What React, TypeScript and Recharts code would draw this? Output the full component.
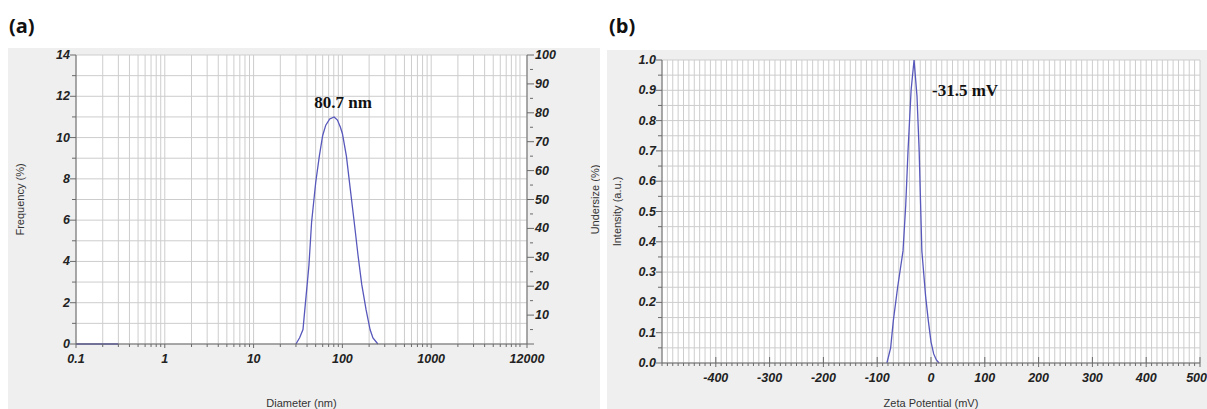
import React from "react";
import {
  LineChart,
  Line,
  XAxis,
  YAxis,
  CartesianGrid,
  ReferenceDot,
} from "recharts";

// (a) particle size distribution
const sizeNm = [0.1, 0.3, 1, 30, 33, 36, 38, 42, 45, 50, 55, 60, 65, 72, 80.7, 88, 95, 100, 111, 122, 136, 150, 165, 185, 205, 221, 251];
const frequency = [0, 0, null, 0, 0.3, 0.7, 1.8, 3.8, 5.9, 7.8, 9.1, 10.1, 10.6, 10.9, 11.0, 10.85, 10.5, 10.2, 9.1, 7.6, 5.9, 4.3, 2.9, 1.65, 0.7, 0.29, 0];
const sizeMajorTicks = [0.1, 1, 10, 100, 1000, 12000];
const sizeLabels = ["0.1", "1", "10", "100", "1000", "12000"];
const sizePeakLabel = "80.7 nm";

// (b) zeta potential
const zetaMv = [-82, -75, -70, -62, -52, -47, -42.7, -37, -31.5, -26, -22, -17, -10, -5, 0, 5, 10, 15];
const intensity = [0, 0.05, 0.14, 0.25, 0.37, 0.52, 0.7, 0.9, 1.0, 0.88, 0.7, 0.37, 0.22, 0.14, 0.07, 0.03, 0.01, 0];
const zetaLabels = [-400, -300, -200, -100, 0, 100, 200, 300, 400, 500];
const zetaPeakLabel = "-31.5 mV";

const sizeData = sizeNm.map((x, i) => ({ x, y: frequency[i] }));
const zetaData = zetaMv.map((x, i) => ({ x, y: intensity[i] }));

// grid / tick positions
const sizeTicks: number[] = [];
[0.1, 1, 10, 100, 1000].forEach((d) => {
  for (let k = 1; k <= 9; k++) sizeTicks.push(+(d * k).toPrecision(3));
});
sizeTicks.push(10000, 12000);
const freqTicks = Array.from({ length: 15 }, (_, i) => i);
const underTicks = Array.from({ length: 21 }, (_, i) => i * 5);
const zetaTicks = Array.from({ length: 101 }, (_, i) => -500 + i * 10);
const intTicks = Array.from({ length: 21 }, (_, i) => i * 5 / 100);

const LINE = "#5858bc";
const GRID = "#cdcdcd";
const AXIS = "#6a6a6a";
const tickFont = {
  fontFamily: "'Liberation Sans', Arial, sans-serif",
  fontSize: 12.5,
  fontWeight: 700,
  fontStyle: "italic" as const,
  fill: "#222",
};
const titleFont = {
  fontFamily: "'Liberation Sans', Arial, sans-serif",
  fontSize: 11,
  fill: "#333",
};

const SizeXTick = (p: any) => {
  const v = p.payload.value;
  const i = sizeMajorTicks.indexOf(v);
  return (
    <g>
      <line x1={p.x} x2={p.x} y1={p.y} y2={p.y + (i >= 0 ? 4 : 3)} stroke={AXIS} />
      {i >= 0 && (
        <text x={p.x} y={p.y + 19} textAnchor="middle" {...tickFont}>
          {sizeLabels[i]}
        </text>
      )}
    </g>
  );
};

const FreqTick = (p: any) => {
  const v = p.payload.value;
  const major = v % 2 === 0;
  return (
    <g>
      <line x1={p.x - (major ? 6 : 4)} x2={p.x} y1={p.y} y2={p.y} stroke={AXIS} />
      {major && (
        <text x={p.x - 6} y={p.y + 4} textAnchor="end" {...tickFont}>
          {v}
        </text>
      )}
    </g>
  );
};

const UnderTick = (p: any) => {
  const v = p.payload.value;
  const major = v % 10 === 0;
  return (
    <g>
      {major ? (
        <line x1={p.x} x2={p.x + 7} y1={p.y} y2={p.y} stroke={AXIS} />
      ) : (
        <line x1={p.x + 3} x2={p.x + 6} y1={p.y} y2={p.y} stroke={AXIS} />
      )}
      {major && v > 0 && (
        <text x={p.x + 8} y={p.y + 4} textAnchor="start" {...tickFont}>
          {v}
        </text>
      )}
    </g>
  );
};

const ZetaXTick = (p: any) => {
  const v = p.payload.value;
  const major = zetaLabels.includes(v);
  const last = v === zetaLabels[zetaLabels.length - 1];
  return (
    <g>
      <line x1={p.x} x2={p.x} y1={p.y - (major ? 6 : 0)} y2={p.y + (major ? 4 : 3)} stroke={AXIS} />
      {major && (
        <text x={last ? p.x + 7 : p.x} y={p.y + 19} textAnchor={last ? "end" : "middle"} {...tickFont}>
          {v}
        </text>
      )}
    </g>
  );
};

const IntTick = (p: any) => {
  const v = p.payload.value;
  const major = Math.round(v * 100) % 10 === 0;
  return (
    <g>
      <line x1={p.x - (major ? 6 : 4)} x2={p.x} y1={p.y} y2={p.y} stroke={AXIS} />
      {major && (
        <text x={p.x - 6} y={p.y + 4} textAnchor="end" {...tickFont}>
          {v.toFixed(1)}
        </text>
      )}
    </g>
  );
};

const axisTitle = (text: string, d: number, vertical: boolean) => (props: any) => {
  const vb = props.viewBox;
  const cx = vertical ? vb.x + d : vb.x + vb.width / 2;
  const cy = vertical ? vb.y + vb.height / 2 : vb.y + d;
  return (
    <text
      x={cx}
      y={cy}
      textAnchor="middle"
      dominantBaseline="central"
      transform={vertical ? `rotate(-90 ${cx} ${cy})` : undefined}
      {...titleFont}
    >
      {text}
    </text>
  );
};

const peakFont = {
  fontFamily: "'Liberation Serif', 'Times New Roman', serif",
  fontSize: 17,
  fontWeight: 700,
  fill: "#111",
};

const panelTitle: React.CSSProperties = {
  position: "absolute",
  fontFamily: "'Open Sans', 'Liberation Sans', sans-serif",
  fontWeight: 700,
  fontSize: 20,
  color: "#111",
  lineHeight: "22px",
};

export default function App() {
  return (
    <div style={{ position: "absolute", left: 0, top: 0, width: 1207, height: 409, background: "#fff", overflow: "hidden" }}>
      <div style={{ ...panelTitle, left: 9, top: 15 }}>(a)</div>
      <div style={{ ...panelTitle, left: 609, top: 15 }}>(b)</div>

      <div style={{ position: "absolute", left: 8, top: 48, width: 592, height: 361, background: "#efefef" }}>
        <LineChart width={592} height={361} data={sizeData} margin={{ top: 7, right: 3, bottom: 5, left: 8 }}>
          <CartesianGrid yAxisId="left" stroke={GRID} fill="#fff" strokeWidth={1} />
          <XAxis
            dataKey="x"
            type="number"
            scale="log"
            domain={[0.1, 12000]}
            allowDataOverflow
            ticks={sizeTicks}
            interval={0}
            tick={SizeXTick}
            tickLine={false}
            tickSize={0}
            tickMargin={0}
            height={60}
            stroke={AXIS}
            label={{ content: axisTitle("Diameter (nm)", 59, false) }}
          />
          <YAxis
            yAxisId="left"
            type="number"
            domain={[0, 14]}
            ticks={freqTicks}
            interval={0}
            tick={FreqTick}
            tickLine={false}
            tickSize={0}
            tickMargin={0}
            width={60}
            stroke={AXIS}
            label={{ content: axisTitle("Frequency (%)", 4, true) }}
          />
          <YAxis
            yAxisId="right"
            orientation="right"
            type="number"
            domain={[0, 100]}
            allowDataOverflow
            ticks={underTicks}
            interval={0}
            tick={UnderTick}
            tickLine={false}
            tickSize={0}
            tickMargin={0}
            width={70}
            stroke={AXIS}
            label={{ content: axisTitle("Undersize (%)", 68, true) }}
          />
          <Line
            yAxisId="left"
            dataKey="y"
            type="linear"
            stroke={LINE}
            strokeWidth={1.3}
            dot={false}
            connectNulls={false}
            isAnimationActive={false}
          />
          <ReferenceDot
            yAxisId="left"
            x={80.7}
            y={11}
            r={0}
            stroke="none"
            fill="none"
            label={{ value: sizePeakLabel, position: "top", offset: 9, dx: 9, ...peakFont }}
          />
        </LineChart>
      </div>

      <div style={{ position: "absolute", left: 607, top: 50, width: 600, height: 359, background: "#efefef" }}>
        <LineChart width={600} height={359} data={zetaData} margin={{ top: 10, right: 7, bottom: 2, left: 5 }}>
          <CartesianGrid stroke={GRID} fill="#fff" strokeWidth={1} />
          <XAxis
            dataKey="x"
            type="number"
            domain={[-500, 500]}
            ticks={zetaTicks}
            interval={0}
            tick={ZetaXTick}
            tickLine={false}
            tickSize={0}
            tickMargin={0}
            height={44}
            stroke={AXIS}
            label={{ content: axisTitle("Zeta Potential (mV)", 40, false) }}
          />
          <YAxis
            type="number"
            domain={[0, 1]}
            ticks={intTicks}
            interval={0}
            tick={IntTick}
            tickLine={false}
            tickSize={0}
            tickMargin={0}
            width={50}
            stroke={AXIS}
            label={{ content: axisTitle("Intensity (a.u.)", 5, true) }}
          />
          <Line
            dataKey="y"
            type="linear"
            stroke={LINE}
            strokeWidth={1.3}
            dot={false}
            isAnimationActive={false}
          />
          <ReferenceDot
            x={-31.5}
            y={0.9}
            r={0}
            stroke="none"
            fill="none"
            label={{ value: zetaPeakLabel, position: "right", offset: 18, ...peakFont }}
          />
        </LineChart>
      </div>
    </div>
  );
}
